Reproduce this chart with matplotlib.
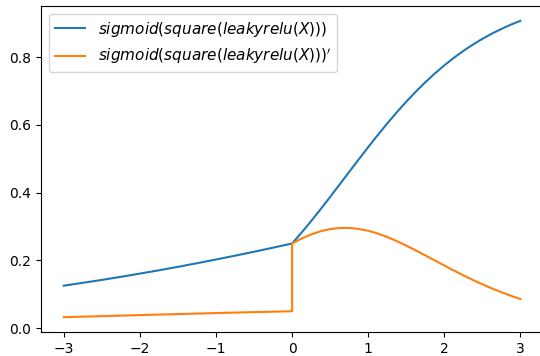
import matplotlib
matplotlib.use('Agg')
import matplotlib.pyplot as plt

# values
x = [-3.0, -2.75, -2.5, -2.25, -2.0, -1.75, -1.5, -1.25, -1.0, -0.75, -0.5, -0.25,
     0.0, 0.0, 0.125, 0.25, 0.375, 0.5, 0.625, 0.75, 0.875, 1.0, 1.125, 1.25, 1.375,
     1.5, 1.625, 1.75, 1.875, 2.0, 2.125, 2.25, 2.375, 2.5, 2.625, 2.75, 2.875, 3.0]

f_vals = [0.1255, 0.1339, 0.1425, 0.1516, 0.1611, 0.1709, 0.1811, 0.1917, 0.2027,
          0.2140, 0.2256, 0.2377, 0.25, 0.25, 0.2822, 0.3161, 0.3513, 0.3875, 0.4243,
          0.4613, 0.4981, 0.5345, 0.5699, 0.6042, 0.6371, 0.6685, 0.6980, 0.7259,
          0.7518, 0.7758, 0.7981, 0.8185, 0.8371, 0.8540, 0.8696, 0.8834, 0.8961, 0.9074]

df_vals = [0.0324, 0.0340, 0.0355, 0.0370, 0.0386, 0.0401, 0.0416, 0.0431, 0.0446,
           0.0460, 0.0474, 0.0487, 0.05, 0.25, 0.2646, 0.2768, 0.2862, 0.2926, 0.2958,
           0.2960, 0.2931, 0.2875, 0.2794, 0.2691, 0.2572, 0.2439, 0.2297, 0.2149,
           0.1999, 0.1850, 0.1702, 0.1560, 0.1424, 0.1296, 0.1174, 0.1062, 0.0957, 0.0860]

labels = [r"$sigmoid(square(leakyrelu(X)))$", r"$sigmoid(square(leakyrelu(X)))'$"]

fig = plt.figure(figsize=(5.4, 3.56), dpi=100)
# the reference is cropped on the right, so the axes run past the canvas edge
ax = fig.add_axes([0.0759, 0.0674, 0.93, 0.9157])

ax.plot(x, f_vals, label=labels[0])
ax.plot(x, df_vals, label=labels[1])
ax.legend(loc='upper left', fontsize=11)
ax.spines['right'].set_visible(False)

fig.savefig('out.png', dpi=100)
plt.close(fig)
